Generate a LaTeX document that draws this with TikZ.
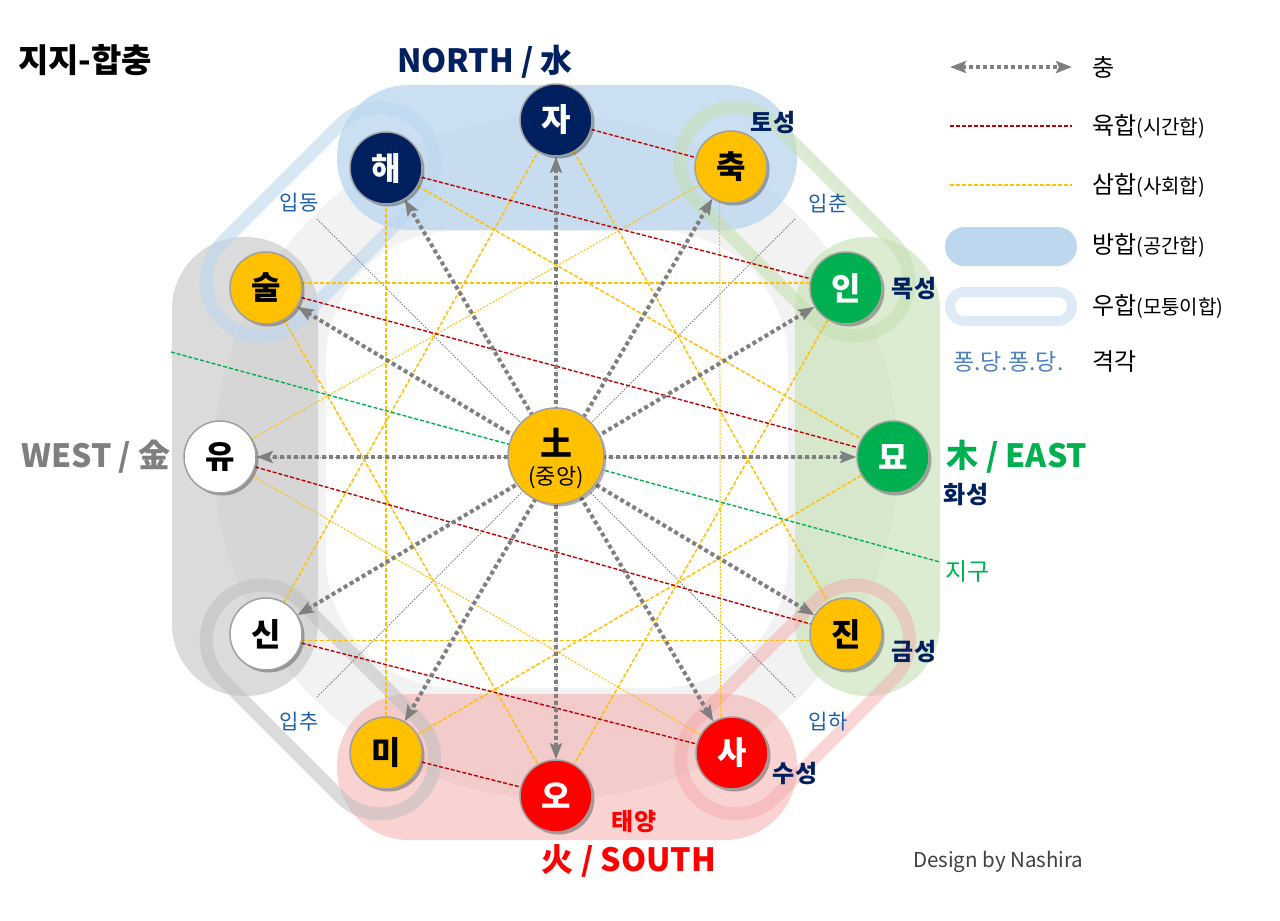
\documentclass[tikz,border=0pt]{standalone}
\usepackage{fontspec}
\setmainfont{Noto Sans CJK KR}
\usetikzlibrary{arrows.meta,shadows}
\pgfdeclarelayer{bg}
\pgfdeclarelayer{lines}
\pgfsetlayers{bg,lines,main}
\definecolor{navy}{HTML}{002060}
\definecolor{gold}{HTML}{FFC000}
\definecolor{kgreen}{HTML}{00B050}
\definecolor{kred}{HTML}{FF0000}
\definecolor{yukred}{HTML}{C00000}
\definecolor{samy}{HTML}{FFC000}
\definecolor{chg}{HTML}{7F7F7F}
\definecolor{ringgray}{HTML}{F2F2F2}
\definecolor{nblue}{HTML}{BDD7EE}
\definecolor{egreen}{HTML}{C5E0B4}
\definecolor{spink}{HTML}{F4A6A6}
\definecolor{wgray}{HTML}{BFBFBF}
\definecolor{ipblue}{HTML}{1F5FA8}
\definecolor{pongblue}{HTML}{4F81BD}
\definecolor{design}{HTML}{404040}
\definecolor{westgray}{HTML}{7F7F7F}
\definecolor{nodeborder}{HTML}{A0A0A0}
\definecolor{legring}{HTML}{DEEAF6}
\tikzset{
  knode/.style={circle, minimum size=72pt, inner sep=0pt, draw=nodeborder, line width=1.5pt,
    font=\fontsize{32}{32}\selectfont\bfseries,
    drop shadow={shadow xshift=2.5pt, shadow yshift=-2.5pt, opacity=0.3, fill=black}},
  uhap/.style={rectangle, rounded corners=55pt, minimum width=278pt, minimum height=110pt,
    inner sep=0pt, line width=13pt},
  chung/.style={draw=chg, line width=4pt, dash pattern=on 4pt off 3pt,
    {Stealth[length=16pt,width=12pt,inset=3pt]}-{Stealth[length=16pt,width=12pt,inset=3pt]}},
  yuk/.style={draw=yukred, line width=1.4pt, dash pattern=on 4pt off 2pt},
  sam/.style={draw=samy, line width=1.5pt, dash pattern=on 4pt off 2pt},
  samthin/.style={draw=samy, line width=1pt, dash pattern=on 2pt off 1.5pt},
  jigu/.style={draw=kgreen, line width=1.4pt, dash pattern=on 4pt off 2pt},
  ipline/.style={draw=chg, line width=1pt, dash pattern=on 1.5pt off 1.5pt},
  planet/.style={font=\fontsize{24}{24}\selectfont\bfseries, text=navy, inner sep=0pt},
  iplabel/.style={font=\fontsize{21}{21}\selectfont, text=ipblue, inner sep=0pt},
  bigdir/.style={font=\fontsize{32}{32}\selectfont\bfseries, inner sep=0pt},
  legtext/.style={anchor=west, inner sep=0pt, font=\fontsize{24}{24}\selectfont},
}
\newcommand{\smallpar}[1]{{\fontsize{20}{20}\selectfont #1}}
\begin{document}
\begin{tikzpicture}[x=1pt,y=-1pt]
\useasboundingbox (0,0) rectangle (1280,921);
\begin{pgfonlayer}{bg}
  \fill[white] (0,0) rectangle (1280,921);
  \fill[ringgray] (556,457) circle (342);
  \fill[white, rounded corners=130pt] (326,231) rectangle (788,688);
  % bang-hap
  \fill[nblue, fill opacity=0.8, rounded corners=72pt] (337,85) rectangle (797,230);
  \fill[egreen, fill opacity=0.6, rounded corners=72pt] (795,237) rectangle (940,696);
  \fill[spink, fill opacity=0.5, rounded corners=72pt] (337,694) rectangle (797,840);
  \fill[wgray, fill opacity=0.55, rounded corners=72pt] (172,237) rectangle (318,696);
  % u-hap
  \node[uhap, draw=nblue, draw opacity=0.6, rotate=45] (uNW) at (320.5,222) {};
  \node[uhap, draw=egreen, draw opacity=0.6, rotate=-45] (uNE) at (794.5,221.5) {};
  \node[uhap, draw=spink, draw opacity=0.45, rotate=45] (uSE) at (795,699.5) {};
  \node[uhap, draw=wgray, draw opacity=0.55, rotate=-45] (uSW) at (320.5,699.5) {};
  % legend shapes
  \fill[nblue, rounded corners=19.5pt] (945,227) rectangle (1077,266);
  \draw[legring, line width=10pt, rounded corners=14.5pt] (950,292) rectangle (1072,321);
\end{pgfonlayer}

% nodes
\node[knode, fill=navy, text=white] (ja) at (556,120) {자};
\node[knode, fill=gold] (chuk) at (731,167) {축};
\node[knode, fill=kgreen, text=white] (inn) at (846,288) {인};
\node[knode, fill=kgreen, text=white] (myo) at (893,457) {묘};
\node[knode, fill=gold] (jin) at (846,634) {진};
\node[knode, fill=kred, text=white] (sa) at (732,753) {사};
\node[knode, fill=kred, text=white] (oo) at (556,796) {오};
\node[knode, fill=gold] (mi) at (386,753) {미};
\node[knode, fill=white] (sin) at (266,634) {신};
\node[knode, fill=white] (yu) at (220,457) {유};
\node[knode, fill=gold] (sul) at (266,288) {술};
\node[knode, fill=navy, text=white] (hae) at (386,168) {해};
\node[knode, fill=gold, minimum size=96pt] (tocen) at (556,456) {};
\node[inner sep=0pt, font=\fontsize{32}{32}\selectfont\bfseries] (toA) at (556,443) {土};
\node[inner sep=0pt, font=\fontsize{22}{22}\selectfont] (toB) at (556,478) {(중앙)};

\coordinate (ipd1) at (317,219); \coordinate (ipd2) at (795,697);
\coordinate (ipc1) at (795,219); \coordinate (ipc2) at (317,697);
\coordinate (jg1) at (171,352); \coordinate (jg2) at (940,562);
\coordinate (lgAa) at (950,67); \coordinate (lgAb) at (1072,67);
\coordinate (lgBa) at (950,126); \coordinate (lgBb) at (1072,126);
\coordinate (lgCa) at (950,185); \coordinate (lgCb) at (1072,185);

\begin{pgfonlayer}{lines}
  \draw[ipline] (ipd1) -- (ipd2);
  \draw[ipline] (ipc1) -- (ipc2);
  % sam-hap
  \draw[sam] (sin) -- (ja); \draw[sam] (ja) -- (jin); \draw[sam] (jin.190) -- (sin.-10);
  \draw[sam] (hae) -- (myo); \draw[sam] (myo) -- (mi); \draw[sam] (mi) -- (hae);
  \draw[sam] (inn) -- (oo); \draw[sam] (oo) -- (sul); \draw[sam] (sul.8) -- (inn.172);
  \draw[samthin] (sa) -- (yu); \draw[samthin] (yu) -- (chuk); \draw[samthin] (chuk.252) -- (sa.108);
  % yuk-hap
  \draw[yuk] (ja) -- (chuk); \draw[yuk] (hae) -- (inn); \draw[yuk] (sul) -- (myo);
  \draw[yuk] (yu) -- (jin); \draw[yuk] (sin) -- (sa); \draw[yuk] (mi) -- (oo);
  \draw[jigu] (jg1) -- (jg2);
  % chung
  \draw[chung] (ja) -- (oo); \draw[chung] (chuk) -- (mi); \draw[chung] (inn) -- (sin);
  \draw[chung] (myo) -- (yu); \draw[chung] (jin) -- (sul); \draw[chung] (sa) -- (hae);
  \draw[ipline] (ja) -- (oo); \draw[ipline] (yu) -- (myo);
  % legend lines
  \draw[chung] (lgAa) -- (lgAb);
  \draw[yuk] (lgBa) -- (lgBb);
  \draw[sam] (lgCa) -- (lgCb);
\end{pgfonlayer}

% titles
\node[anchor=west, inner sep=0pt, font=\fontsize{33}{33}\selectfont\bfseries] (title) at (18,60) {지지-합충};
\node[bigdir, text=navy] (north) at (485,62) {NORTH / 水};
\node[bigdir, text=westgray] (west) at (96,457) {WEST / 金};
\node[bigdir, text=kgreen] (east) at (1017,457) {木 / EAST};
\node[bigdir, text=kred] (south) at (629,861) {火 / SOUTH};
% planets
\node[planet] (pto) at (773,123) {토성};
\node[planet] (pmok) at (914,289) {목성};
\node[planet] (phwa) at (966,495) {화성};
\node[planet] (pgeum) at (914,652) {금성};
\node[planet] (psu) at (795,774) {수성};
\node[planet, text=kred] (psun) at (634,822) {태양};
\node[anchor=west, inner sep=0pt, font=\fontsize{24}{24}\selectfont, text=kgreen] (pearth) at (945,572) {지구};
% seasons
\node[iplabel] (ipdong) at (299,203) {입동};
\node[iplabel] (ipchun) at (828,203) {입춘};
\node[iplabel] (ipchu) at (299,722) {입추};
\node[iplabel] (ipha) at (828,722) {입하};
% legend texts
\node[legtext] (lgA) at (1092,67) {충};
\node[legtext] (lgB) at (1092,126) {육합\smallpar{(시간합)}};
\node[legtext] (lgC) at (1092,185) {삼합\smallpar{(사회합)}};
\node[legtext] (lgD) at (1092,245) {방합\smallpar{(공간합)}};
\node[legtext] (lgE) at (1092,306) {우합\smallpar{(모퉁이합)}};
\node[legtext, text=pongblue, font=\fontsize{23}{23}\selectfont] (lgF0) at (953,362) {퐁.당.퐁.당.};
\node[legtext] (lgF) at (1092,362) {격각};
\node[anchor=west, inner sep=0pt, text=design, font=\fontsize{20.5}{20.5}\selectfont] (design) at (913,862) {Design by Nashira};
\end{tikzpicture}
\end{document}
